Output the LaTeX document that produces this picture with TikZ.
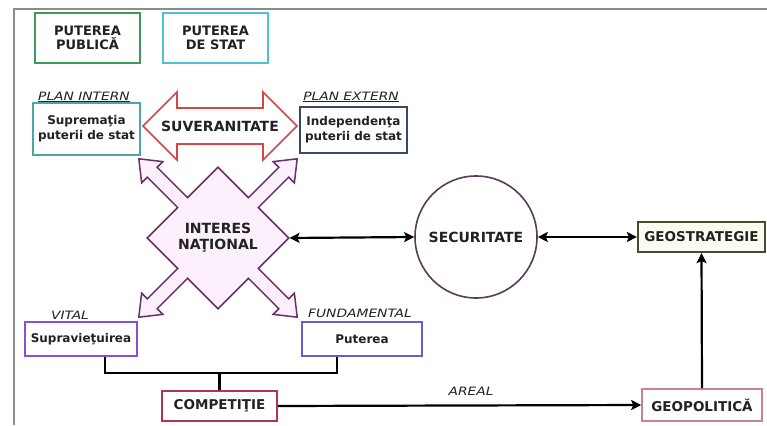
\documentclass[tikz,border=0pt]{standalone}
\usepackage{fontspec}
\setmainfont{DejaVu Sans}
\newfontfamily\lblfont[FakeStretch=1.2]{DejaVu Sans Oblique}
\usetikzlibrary{arrows.meta}
\definecolor{cgreen}{HTML}{3C9A5F}
\definecolor{ccyan}{HTML}{4EC0DA}
\definecolor{cteal}{HTML}{4AA8A4}
\definecolor{cslate}{HTML}{3A4868}
\definecolor{cred}{HTML}{D04848}
\definecolor{cplum}{HTML}{6A2E6A}
\definecolor{cpinkfill}{HTML}{FBF0FB}
\definecolor{cviolet}{HTML}{8A4FD0}
\definecolor{cblueviolet}{HTML}{6E5AD0}
\definecolor{ccrimson}{HTML}{B03355}
\definecolor{crose}{HTML}{C9809A}
\definecolor{colive}{HTML}{4A4A30}
\definecolor{ccream}{HTML}{FBFBF0}
\definecolor{ccircle}{HTML}{5A3A5A}
\definecolor{cframe}{HTML}{8C8C8C}
\definecolor{ctext}{HTML}{222222}
\begin{document}
\begin{tikzpicture}[x=1pt, y=-1pt,
  box/.style={draw, line width=1.6pt, inner sep=0pt, align=center, text=ctext,
    font=\bfseries\fontsize{12}{15}\selectfont},
  capbox/.style={box, font=\bfseries\fontsize{13.5}{15}\selectfont},
  lbl/.style={font=\lblfont\fontsize{11.5}{13}\selectfont, text=ctext, inner sep=0pt},
  conn/.style={line width=2.2pt, black},
  arr/.style={conn, -{Stealth[length=10pt,width=10pt,inset=2pt]}},
  darr/.style={conn, {Stealth[length=10pt,width=10pt,inset=2pt]}-{Stealth[length=10pt,width=10pt,inset=2pt]}}
]
\useasboundingbox (0,0) rectangle (767,425);
\fill[white] (0,0) rectangle (767,425);
% frame
\draw[cframe, line width=2.5pt] (14,425) -- (14,9) -- (767,9);

% top boxes
\node[box, draw=cgreen, minimum width=105pt, minimum height=50pt,
  font=\bfseries\fontsize{13}{14}\selectfont] (pp) at (87.5,38) {PUTEREA\\PUBLICĂ};
\node[box, draw=ccyan, minimum width=105pt, minimum height=50pt,
  font=\bfseries\fontsize{13}{14}\selectfont] (ps) at (215.5,38) {PUTEREA\\DE STAT};

% plan boxes
\node[lbl] (pin) at (84,97) {\underline{PLAN INTERN}};
\node[lbl] (pex) at (351,97) {\underline{PLAN EXTERN}};
\node[box, draw=cteal, minimum width=107pt, minimum height=52pt] (sup) at (86.5,129) {Supremaţia\\puterii de stat};
\node[box, draw=cslate, minimum width=107pt, minimum height=46pt] (ind) at (353.5,130) {Independenţa\\puterii de stat};

% suveranitate double arrow
\draw[cred, line width=1.6pt, fill=white, line join=miter]
  (143,126) -- (177,92) -- (177,108) -- (263,108) -- (263,92) -- (297,126)
  -- (263,160) -- (263,144) -- (177,144) -- (177,160) -- cycle;
\node[font=\bfseries\fontsize{14}{15}\selectfont, text=ctext] (suv) at (220,126) {SUVERANITATE};

% interes national four-way arrow
\begin{scope}[shift={(218,238)}, rotate=45]
\draw[cplum, line width=1.5pt, fill=cpinkfill, line join=miter]
  (50,-7) -- (93,-7) -- (93,-15) -- (112,0) -- (93,15) -- (93,7) -- (50,7) -- (50,50)
  -- (7,50) -- (7,93) -- (15,93) -- (0,112) -- (-15,93) -- (-7,93) -- (-7,50) -- (-50,50)
  -- (-50,7) -- (-93,7) -- (-93,15) -- (-112,0) -- (-93,-15) -- (-93,-7) -- (-50,-7) -- (-50,-50)
  -- (-7,-50) -- (-7,-93) -- (-15,-93) -- (0,-112) -- (15,-93) -- (7,-93) -- (7,-50) -- (50,-50) -- cycle;
\end{scope}
\node[font=\bfseries\fontsize{14}{16}\selectfont, align=center, text=ctext] (int) at (218,238) {INTERES\\NAŢIONAL};
\coordinate (intE) at (289.5,238);

% securitate, geostrategie
\node[circle, draw=ccircle, line width=1.6pt, minimum size=122pt, inner sep=0pt, fill=white,
  font=\bfseries\fontsize{14}{15}\selectfont, text=ctext] (sec) at (476,237) {SECURITATE};
\node[capbox, draw=colive, line width=2.2pt, fill=ccream, minimum width=127pt, minimum height=30pt] (geos) at (701.5,237) {GEOSTRATEGIE};

% bottom boxes
\node[lbl] (vit) at (70,315) {VITAL};
\node[lbl] (fun) at (360,313) {FUNDAMENTAL};
\node[box, draw=cviolet, minimum width=112pt, minimum height=34pt] (supv) at (81,339) {Supravieţuirea};
\node[box, draw=cblueviolet, minimum width=120pt, minimum height=34pt] (put) at (362,339) {Puterea};
\node[capbox, draw=ccrimson, minimum width=115pt, minimum height=30pt] (comp) at (219.5,406) {COMPETIŢIE};
\node[capbox, draw=crose, minimum width=120pt, minimum height=32pt] (geop) at (702,405) {GEOPOLITICĂ};
\node[lbl] (are) at (471,391) {AREAL};

% connectors
\coordinate (j) at (219.5,373);
\draw[conn] ([xshift=24pt]supv.south) |- (j) -| ([xshift=-25pt]put.south);
\draw[conn] (j) -- (comp.north);
\draw[darr] (intE) -- (sec.west);
\draw[darr] (sec.east) -- (geos.west);
\draw[arr] (comp.east) -- (geop.west);
\draw[arr] (geop.north) -- (geos.south);
\end{tikzpicture}
\end{document}
